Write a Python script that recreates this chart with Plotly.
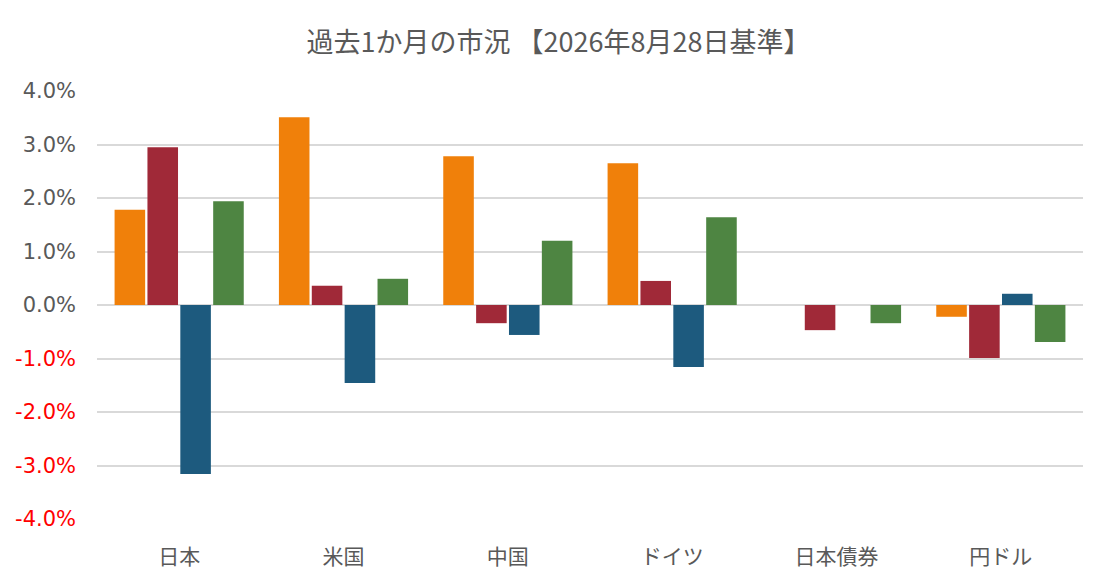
import plotly.graph_objects as go

# カテゴリと系列データ（単位：%）
categories = ['日本', '米国', '中国', 'ドイツ', '日本債券', '円ドル']
series1 = [1.78, 3.51, 2.78, 2.65, 0.0, -0.22]
series2 = [2.95, 0.36, -0.34, 0.45, -0.47, -0.99]
series3 = [-3.16, -1.46, -0.56, -1.16, 0.0, 0.21]
series4 = [1.94, 0.49, 1.20, 1.64, -0.34, -0.69]
series_names = ['系列1', '系列2', '系列3', '系列4']
tick_values = [-4, -3, -2, -1, 0, 1, 2, 3, 4]

colors = ['#F0800A', '#A02938', '#1D5A7E', '#4E8542']

fig = go.Figure()
for name, vals, color in zip(series_names, [series1, series2, series3, series4], colors):
    fig.add_trace(go.Bar(
        x=categories,
        y=[v / 100 for v in vals],
        name=name,
        marker_color=color,
        marker_line_width=0
    ))

# 負の値は赤で表示
tick_text = []
for v in tick_values:
    label = f'{v:.1f}%'
    if v < 0:
        label = f'<span style="color:#FF0000">{label}</span>'
    tick_text.append(label)

# ページの余白(8px)を考慮したサイズ
fig.update_layout(
    width=1090, height=572,
    title=dict(text='過去1か月の市況 【2026年8月28日基準】', x=0.505, xanchor='center',
               y=0.94, yanchor='middle',
               font=dict(family='Noto Sans CJK JP', size=27, color='#595959')),
    barmode='group',
    bargap=0.2,
    bargroupgap=0.07,
    showlegend=False,
    plot_bgcolor='white',
    paper_bgcolor='white',
    margin=dict(l=89, r=15, t=83, b=61),
    font=dict(family='Noto Sans CJK JP', color='#595959'),
    xaxis=dict(
        tickfont=dict(family='Noto Sans CJK JP', size=21, color='#595959'),
        showgrid=False, showline=False, ticks='',
        ticklabelstandoff=23, automargin=False
    ),
    yaxis=dict(
        range=[-0.04, 0.04],
        tickvals=[v / 100 for v in tick_values],
        ticktext=tick_text,
        tickfont=dict(family='DejaVu Sans', size=21, color='#595959'),
        showgrid=True, gridcolor='#D9D9D9', gridwidth=1.5,
        zeroline=True, zerolinecolor='#D9D9D9', zerolinewidth=1.5,
        ticks='', ticklen=0, showline=False,
        ticklabelstandoff=20, automargin=False
    )
)

fig.write_html('out.html')
